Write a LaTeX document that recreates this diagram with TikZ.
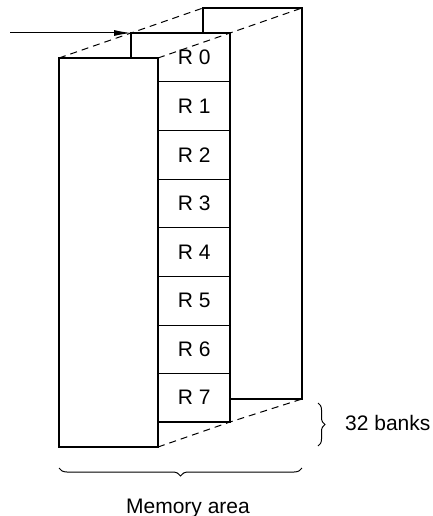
\documentclass[tikz,border=0pt]{standalone}
\usepackage{fontspec}
\setmainfont{Liberation Sans}
\usetikzlibrary{arrows.meta,decorations.pathreplacing}
\begin{document}
\begin{tikzpicture}[x=1pt,y=-1pt,
  bank/.style={draw,line width=2pt,fill=white,line join=miter},
  reg/.style={minimum width=72pt,minimum height=48.6pt,inner sep=0pt,anchor=north west,font=\fontsize{21}{25}\selectfont},
  sep/.style={line width=1pt},
  hid/.style={dashed,line width=1pt,dash pattern=on 7pt off 5pt},
  brc/.style={decorate,decoration={brace,amplitude=7pt},line width=1pt},
  lbl/.style={font=\fontsize{21}{25}\selectfont,inner sep=0pt}]
\useasboundingbox (0,0) rectangle (433,516);
% corners
\coordinate (ftl) at (59,58);  \coordinate (ftr) at (158,58);
\coordinate (fbl) at (59,447); \coordinate (fbr) at (158,447);
\coordinate (mtl) at (131,33); \coordinate (mtr) at (230,33);
\coordinate (mbr) at (230,422);
\coordinate (btl) at (203,8);  \coordinate (btr) at (302,8);
\coordinate (bbr) at (302,399);
% back bank
\draw[bank] (btl) rectangle (bbr);
% middle bank
\draw[bank] (mtl) rectangle (mbr);
% registers
\foreach \i in {0,...,7}{
  \node[reg] (r\i) at (158,33+48.6*\i) {R \i};
}
\foreach \i in {0,...,6}{
  \draw[sep] (r\i.south west) -- (r\i.south east);
}
% front bank
\draw[bank] (ftl) rectangle (fbr);
% dashed depth lines
\draw[hid] (ftl) -- (mtl) -- (btl);
\draw[hid] (ftr) -- (mtr) -- (btr);
\draw[hid] (fbr) -- (mbr) -- (bbr);
% pointer arrow
\coordinate (ain) at (10,33);
\draw[line width=1pt,-{Latex[length=17pt,width=6pt]}] (ain) -- (mtl);
% braces
\coordinate (b1) at (318,403); \coordinate (b2) at (318,446);
\draw[brc] (b1) -- (b2);
\node[lbl,anchor=base west] (nb) at (345,430) {32 banks};
\coordinate (m1) at (302,468); \coordinate (m2) at (59,468);
\draw[brc,decoration={amplitude=8pt}] (m1) -- (m2);
\node[lbl,anchor=base] (nm) at (188,513) {Memory area};
\end{tikzpicture}
\end{document}
